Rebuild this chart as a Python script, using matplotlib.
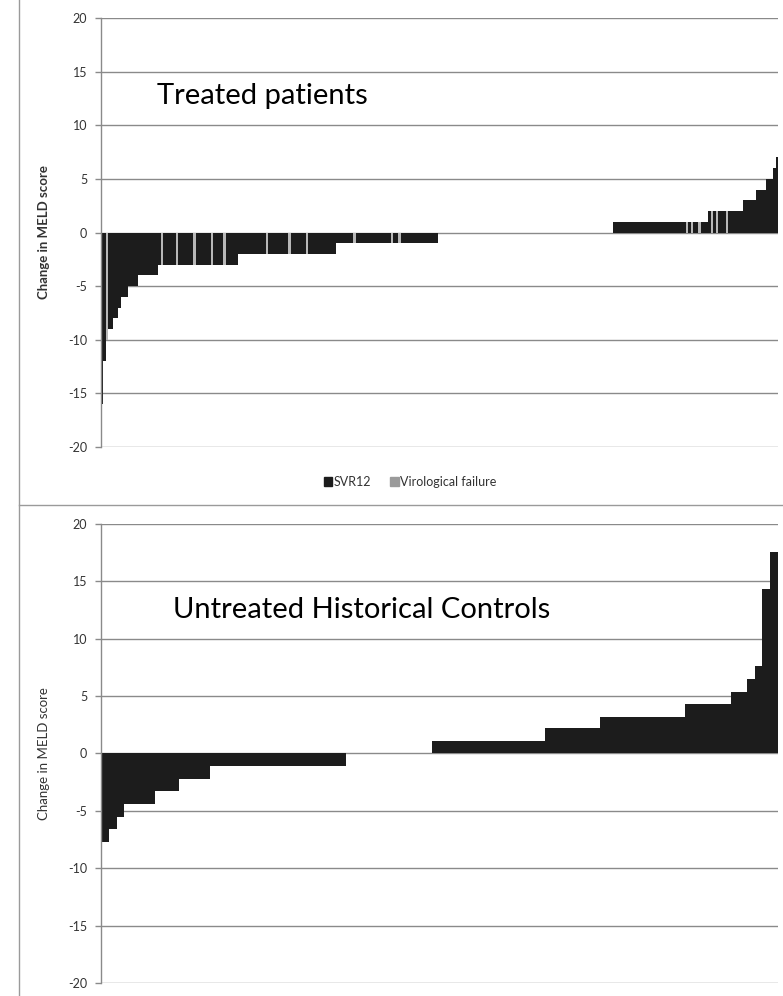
"""
Waterfall charts of MELD score change: treated patients vs untreated controls.
"""

import numpy as np
import matplotlib
matplotlib.use("Agg")
import matplotlib.pyplot as plt
from matplotlib.lines import Line2D
from matplotlib.patches import Patch

matplotlib.rcParams['font.family'] = ['Lato', 'DejaVu Sans']

# Treated patients: sorted change in MELD, stored as value / number of patients
TREATED_VALUES = [-16, -12, -10, -9, -8, -7, -6, -5, -4, -3, -2, -1, 0, 1, 2, 3, 4, 5, 6, 7]
TREATED_COUNTS = [1, 1, 1, 2, 2, 1, 3, 4, 8, 32, 39, 41, 70, 38, 14, 5, 4, 3, 1, 1]
# positions (in sorted order) of patients with virological failure
FAILURE_IDX = [2, 24, 30, 37, 44, 49, 66, 75, 82, 101, 116, 119,
               234, 236, 239, 244, 246, 250]

# Untreated historical controls
CONTROL_VALUES = [-7.7, -6.6, -5.5, -4.4, -3.3, -2.2, -1.1, 0,
                  1.1, 2.2, 3.2, 4.3, 5.4, 6.5, 7.6, 14.3, 17.6]
CONTROL_COUNTS = [3, 3, 3, 12, 9, 12, 53, 33, 44, 21, 33, 18, 6, 3, 3, 3, 3]

Y_TICKS = [-20, -15, -10, -5, 0, 5, 10, 15, 20]

BAR_COLOR = "#1c1c1c"
FAIL_COLOR = "#b8b8b8"
GRID_COLOR = "#8a8a8a"
TEXT_COLOR = "#333333"

W, H = 783, 996


def style_axes(ax, n, bold_label):
    ax.set_xlim(-0.5, n - 0.5)
    ax.set_ylim(-20, 20)
    ax.set_yticks(Y_TICKS)
    ax.set_yticklabels([str(t) for t in Y_TICKS])
    ax.set_xticks([])
    ax.yaxis.grid(True, color=GRID_COLOR, linewidth=1.0)
    ax.set_axisbelow(True)
    for side in ["top", "right", "bottom"]:
        ax.spines[side].set_visible(False)
    ax.spines["left"].set_color(GRID_COLOR)
    ax.spines["left"].set_linewidth(1.0)
    ax.tick_params(axis="y", length=4, width=1, color=GRID_COLOR,
                   pad=6, labelsize=9, labelcolor=TEXT_COLOR)
    ax.set_ylabel("Change in MELD score", fontsize=9.5, color=TEXT_COLOR,
                  fontweight="bold" if bold_label else "normal")
    ax.yaxis.set_label_coords(-0.075, 0.5)


fig = plt.figure(figsize=(W / 100, H / 100), dpi=100)
fig.patch.set_facecolor("white")

# ---- treated patients
treated = np.repeat(TREATED_VALUES, TREATED_COUNTS)
n_t = len(treated)
colors_t = [BAR_COLOR] * n_t
for i in FAILURE_IDX:
    colors_t[i] = FAIL_COLOR

ax1 = fig.add_axes([101 / W, 1 - 447 / H, 677 / W, 429 / H])
ax1.bar(np.arange(n_t), treated, width=1.0, color=colors_t,
        linewidth=0, antialiased=False)
style_axes(ax1, n_t, True)
ax1.text((157 - 101) / 677, (447 - 104) / 429, "Treated patients",
         transform=ax1.transAxes, fontsize=21, color="black", va="baseline")

handles = [Patch(color=BAR_COLOR, label="SVR12"),
           Patch(color="#9a9a9a", label="Virological failure")]
fig.legend(handles=handles, loc="center", bbox_to_anchor=(410 / W, 1 - 482 / H),
           ncol=2, frameon=False, fontsize=9, handlelength=0.7, handleheight=0.7,
           handletextpad=0.1, columnspacing=1.5, labelcolor=TEXT_COLOR)

# ---- untreated controls
controls = np.repeat(CONTROL_VALUES, CONTROL_COUNTS)
n_c = len(controls)

ax2 = fig.add_axes([101 / W, 1 - 983 / H, 677 / W, 459 / H])
ax2.bar(np.arange(n_c), controls, width=1.0, color=BAR_COLOR,
        linewidth=0, antialiased=False)
style_axes(ax2, n_c, False)
ax2.text((173 - 101) / 677, (983 - 618) / 459, "Untreated Historical Controls",
         transform=ax2.transAxes, fontsize=21, color="black", va="baseline")

# panel frame lines
fig.add_artist(Line2D([19 / W, 19 / W], [0, 1], color="#9a9a9a", linewidth=1))
fig.add_artist(Line2D([19 / W, 1], [1 - 505 / H, 1 - 505 / H], color="#9a9a9a", linewidth=1))

fig.savefig("out.png", dpi=100)
